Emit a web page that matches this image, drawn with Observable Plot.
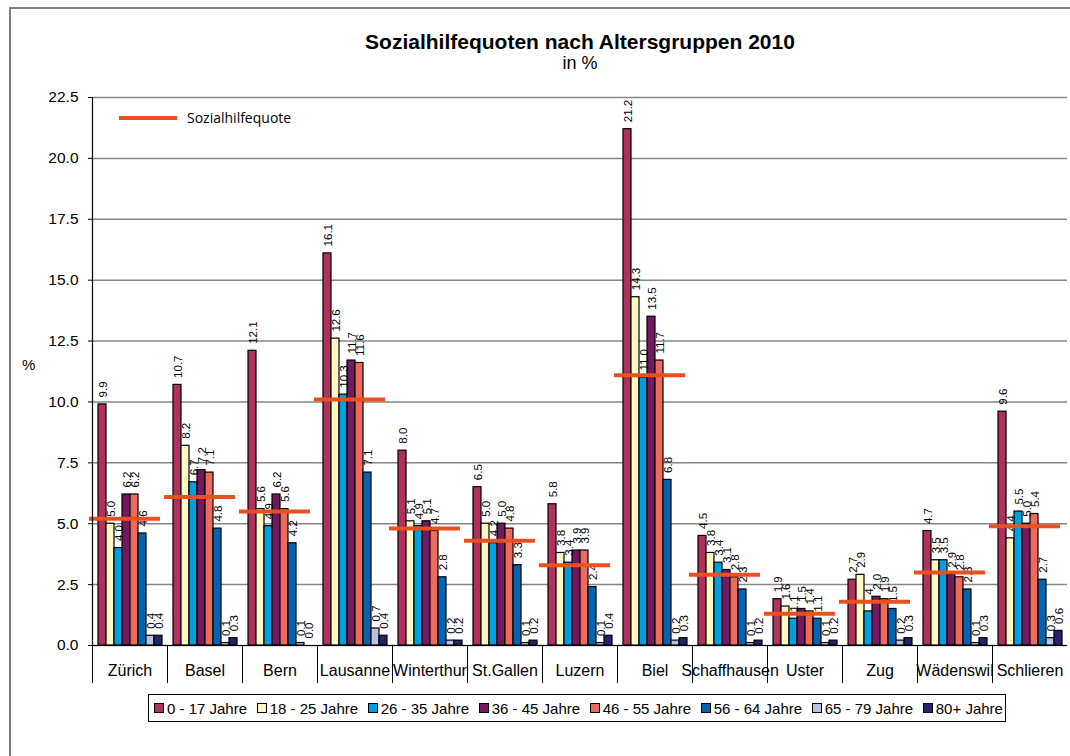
<!DOCTYPE html>
<html><head><meta charset="utf-8">
<script src="https://cdn.jsdelivr.net/npm/d3@7"></script>
<script src="https://cdn.jsdelivr.net/npm/@observablehq/plot@0.6"></script>
<style>
body{margin:0;background:#fff;font-family:"Liberation Sans",Arial,sans-serif;}
#wrap{position:relative;width:1070px;height:756px;overflow:hidden;background:#fff;}
#chart{position:absolute;left:0;top:0;}
#border{position:absolute;left:9px;top:7px;width:1200px;height:900px;border-top:2px solid #808080;border-left:2px solid #808080;pointer-events:none;}
#title{position:absolute;left:90px;width:980px;top:30px;text-align:center;font-weight:bold;font-size:21px;line-height:24px;}
#subtitle{position:absolute;left:90px;width:980px;top:53px;text-align:center;font-size:18px;line-height:20px;}
#ylab{position:absolute;left:22px;top:356px;font-size:15px;}
#qlegend{position:absolute;left:119px;top:108px;display:flex;align-items:center;font-family:"Open Sans",sans-serif;font-size:14px;}
#qlegend .ln{width:58px;height:4px;background:#E8501E;margin-right:10px;}
#legend{position:absolute;left:148px;top:694px;width:849px;height:26px;border:1px solid #000;display:flex;align-items:center;justify-content:space-between;padding:0 2px 0 5px;box-sizing:content-box;font-size:15px;}
#legend .it{display:flex;align-items:center;white-space:nowrap;}
#legend .sw{width:8px;height:8px;border:1px solid #000;margin-right:3px;}
</style>
</head><body>
<div id="wrap">
  <div id="chart"></div>
  <div id="border"></div>
  <div id="title">Sozialhilfequoten nach Altersgruppen 2010</div>
  <div id="subtitle">in %</div>
  <div id="ylab">%</div>
  <div id="qlegend"><span class="ln"></span><span>Sozialhilfequote</span></div>
  <div id="legend"></div>
</div>
<script>
const cities = ["Zürich","Basel","Bern","Lausanne","Winterthur","St.Gallen","Luzern","Biel","Schaffhausen","Uster","Zug","Wädenswil","Schlieren"];
const ageGroups = ["0 - 17 Jahre","18 - 25 Jahre","26 - 35 Jahre","36 - 45 Jahre","46 - 55 Jahre","56 - 64 Jahre","65 - 79 Jahre","80+ Jahre"];
const a0_17  = [9.9,10.7,12.1,16.1,8.0,6.5,5.8,21.2,4.5,1.9,2.7,4.7,9.6];
const a18_25 = [5.0,8.2,5.6,12.6,5.1,5.0,3.8,14.3,3.8,1.6,2.9,3.5,4.4];
const a26_35 = [4.0,6.7,4.9,10.3,4.9,4.2,3.4,11.0,3.4,1.1,1.4,3.5,5.5];
const a36_45 = [6.2,7.2,6.2,11.7,5.1,5.0,3.9,13.5,3.1,1.5,2.0,2.9,5.0];
const a46_55 = [6.2,7.1,5.6,11.6,4.7,4.8,3.9,11.7,2.8,1.4,1.9,2.8,5.4];
const a56_64 = [4.6,4.8,4.2,7.1,2.8,3.3,2.4,6.8,2.3,1.1,1.5,2.3,2.7];
const a65_79 = [0.4,0.1,0.1,0.7,0.2,0.1,0.1,0.2,0.1,0.1,0.2,0.1,0.3];
const a80plus = [0.4,0.3,0.0,0.4,0.2,0.2,0.4,0.3,0.2,0.2,0.3,0.3,0.6];
const sozialhilfequote = [5.2,6.1,5.5,10.1,4.8,4.3,3.3,11.1,2.9,1.3,1.8,3.0,4.9];
const yTicks = [0,2.5,5,7.5,10,12.5,15,17.5,20,22.5];
const colors = ["#B0305E","#FFF8C4","#00A0E0","#741862","#EE6A5C","#0064B0","#B8C2E8","#22246E"];

const series = [a0_17,a18_25,a26_35,a36_45,a46_55,a56_64,a65_79,a80plus];
const table = [];
cities.forEach((c,i)=>series.forEach((s,j)=>table.push({city:c, age:ageGroups[j], value:s[i]})));
const quoteTable = cities.map((c,i)=>({city:c, value:sozialhilfequote[i]}));

const plot = Plot.plot({
  width: 1070, height: 700,
  marginLeft: 90, marginRight: 2, marginTop: 97, marginBottom: 55,
  style: {fontFamily:"Liberation Sans, Arial, sans-serif", fontSize:"15px", color:"#000", background:"transparent", overflow:"visible"},
  fx: {domain: cities, padding: 0},
  x: {domain: ageGroups, paddingInner: 0.05, paddingOuter: 0.2, axis: null},
  y: {domain: [0, 22.5]},
  color: {domain: ageGroups, range: colors},
  marks: [
    Plot.gridY(yTicks, {stroke:"#868686", strokeOpacity:1, strokeWidth:1.5}),
    Plot.axisY(yTicks, {tickFormat: d=>d.toFixed(1), tickSize:4, tickPadding:10, fontSize:15.5, label:null, stroke:"#000"}),
    Plot.axisFx({anchor:"bottom", tickSize:0, tickPadding:19, fontSize:16, label:null}),
    Plot.barY(table, {fx:"city", x:"age", y:"value", fill:"age", stroke:"#000", strokeWidth:1.2}),
    Plot.text(table, {fx:"city", x:"age", y:"value", text: d=>d.value.toFixed(1), rotate:-90, textAnchor:"start", dy:-7, dx:1, fontSize:11.5}),
    Plot.tickY(quoteTable, {fx:"city", y:"value", stroke:"#E8501E", strokeWidth:4, dx:-3, insetRight:4}),
    Plot.ruleY([0], {stroke:"#000", strokeWidth:1.2}),
    Plot.frame({anchor:"left", insetTop:548, insetBottom:-37, stroke:"#000", strokeWidth:1}),
    Plot.frame({anchor:"left", facetAnchor:"left", stroke:"#000", strokeWidth:1.2})
  ]
});
document.getElementById("chart").appendChild(plot);

const lg = document.getElementById("legend");
ageGroups.forEach((a,i)=>{
  const it = document.createElement("span"); it.className="it";
  const sw = document.createElement("span"); sw.className="sw"; sw.style.background=colors[i];
  const t = document.createElement("span"); t.textContent=a;
  it.appendChild(sw); it.appendChild(t); lg.appendChild(it);
});
</script>
</body></html>
